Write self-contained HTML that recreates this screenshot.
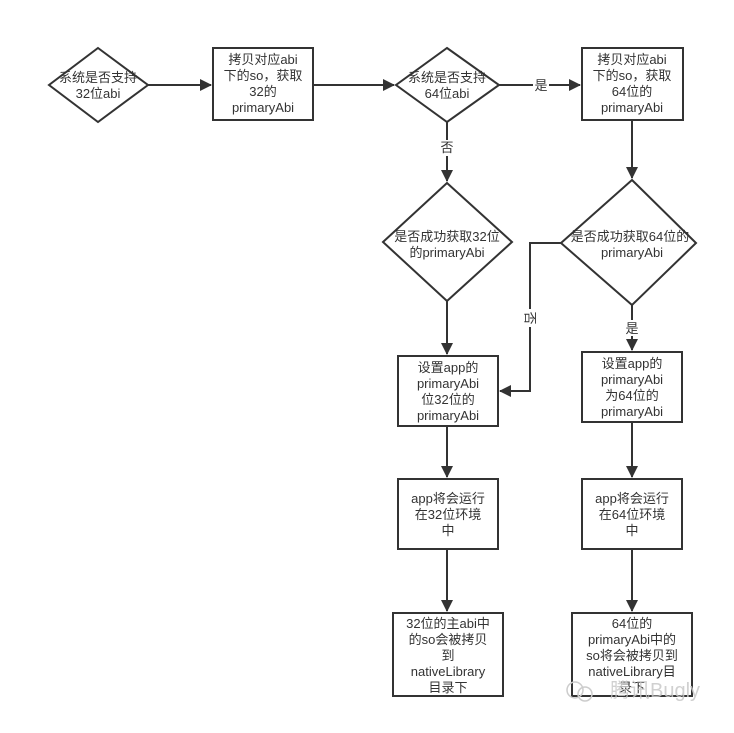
<!DOCTYPE html>
<html><head><meta charset="utf-8"><style>
body{margin:0;background:#fff}
text{font-family:"Liberation Sans","Noto Sans CJK SC",sans-serif;font-size:13px;fill:#333;text-anchor:middle}
</style></head><body>
<svg width="734" height="728" viewBox="0 0 734 728" xmlns="http://www.w3.org/2000/svg">
<defs><marker id="a" markerWidth="12" markerHeight="12" refX="11" refY="6" orient="auto" markerUnits="userSpaceOnUse"><path d="M0,0 L12,6 L0,12 z" fill="#333"/></marker></defs>
<g stroke="#333" stroke-width="2" fill="none">
<polygon points="98,48 148,85 98,122 49,85" fill="#fff"/>
<rect x="213" y="48" width="100" height="72" fill="#fff"/>
<polygon points="447,48 499,85 447,122 396,85" fill="#fff"/>
<rect x="582" y="48" width="101" height="72" fill="#fff"/>
<polygon points="447,183 512,242 447,301 383,242" fill="#fff"/>
<polygon points="632,180 696,243 632,305 561,243" fill="#fff"/>
<rect x="398" y="356" width="100" height="70" fill="#fff"/>
<rect x="582" y="352" width="100" height="70" fill="#fff"/>
<rect x="398" y="479" width="100" height="70" fill="#fff"/>
<rect x="582" y="479" width="100" height="70" fill="#fff"/>
<rect x="393" y="613" width="110" height="83" fill="#fff"/>
<rect x="572" y="613" width="120" height="83" fill="#fff"/>
<line x1="148" y1="85" x2="211" y2="85" marker-end="url(#a)"/>
<line x1="313" y1="85" x2="394" y2="85" marker-end="url(#a)"/>
<line x1="499" y1="85" x2="580" y2="85" marker-end="url(#a)"/>
<line x1="447" y1="122" x2="447" y2="181" marker-end="url(#a)"/>
<line x1="632" y1="120" x2="632" y2="178" marker-end="url(#a)"/>
<line x1="447" y1="301" x2="447" y2="354" marker-end="url(#a)"/>
<polyline points="561,243 530,243 530,391 500,391" marker-end="url(#a)"/>
<line x1="632" y1="305" x2="632" y2="350" marker-end="url(#a)"/>
<line x1="447" y1="426" x2="447" y2="477" marker-end="url(#a)"/>
<line x1="632" y1="422" x2="632" y2="477" marker-end="url(#a)"/>
<line x1="447" y1="549" x2="447" y2="611" marker-end="url(#a)"/>
<line x1="632" y1="549" x2="632" y2="611" marker-end="url(#a)"/>
</g>
<rect x="533" y="78" width="16" height="15" fill="#fff"/>
<rect x="440" y="140" width="15" height="16" fill="#fff"/>
<rect x="522" y="309" width="16" height="18" fill="#fff"/>
<rect x="624" y="320" width="16" height="16" fill="#fff"/>
<text x="541" y="90">是</text>
<text x="447" y="152">否</text>
<text x="530" y="318" dominant-baseline="central" transform="rotate(90 530 318)">否</text>
<text x="632" y="333">是</text>
<text x="98" y="82">系统是否支持</text><text x="98" y="98">32位abi</text>
<text x="263" y="64">拷贝对应abi</text><text x="263" y="80">下的so，获取</text><text x="263" y="96">32的</text><text x="263" y="112">primaryAbi</text>
<text x="447" y="82">系统是否支持</text><text x="447" y="98">64位abi</text>
<text x="632" y="64">拷贝对应abi</text><text x="632" y="80">下的so，获取</text><text x="632" y="96">64位的</text><text x="632" y="112">primaryAbi</text>
<text x="447" y="241">是否成功获取32位</text><text x="447" y="257">的primaryAbi</text>
<text x="630" y="241">是否成功获取64位的</text><text x="632" y="257">primaryAbi</text>
<text x="448" y="372">设置app的</text><text x="448" y="388">primaryAbi</text><text x="448" y="404">位32位的</text><text x="448" y="420">primaryAbi</text>
<text x="632" y="368">设置app的</text><text x="632" y="384">primaryAbi</text><text x="632" y="400">为64位的</text><text x="632" y="416">primaryAbi</text>
<text x="448" y="503">app将会运行</text><text x="448" y="519">在32位环境</text><text x="448" y="535">中</text>
<text x="632" y="503">app将会运行</text><text x="632" y="519">在64位环境</text><text x="632" y="535">中</text>
<text x="448" y="628">32位的主abi中</text><text x="448" y="644">的so会被拷贝</text><text x="448" y="660">到</text><text x="448" y="676">nativeLibrary</text><text x="448" y="692">目录下</text>
<text x="632" y="628">64位的</text><text x="632" y="644">primaryAbi中的</text><text x="632" y="660">so将会被拷贝到</text><text x="632" y="676">nativeLibrary目</text><text x="632" y="692">录下</text>
<text x="655" y="697" style="font-size:20px;fill:#c8c8c8;opacity:0.85">腾讯Bugly</text>
<circle cx="575" cy="690" r="8" fill="none" stroke="#ccc" stroke-width="1.5"/>
<circle cx="585" cy="694" r="7" fill="none" stroke="#ccc" stroke-width="1.5"/>
</svg>
</body></html>
